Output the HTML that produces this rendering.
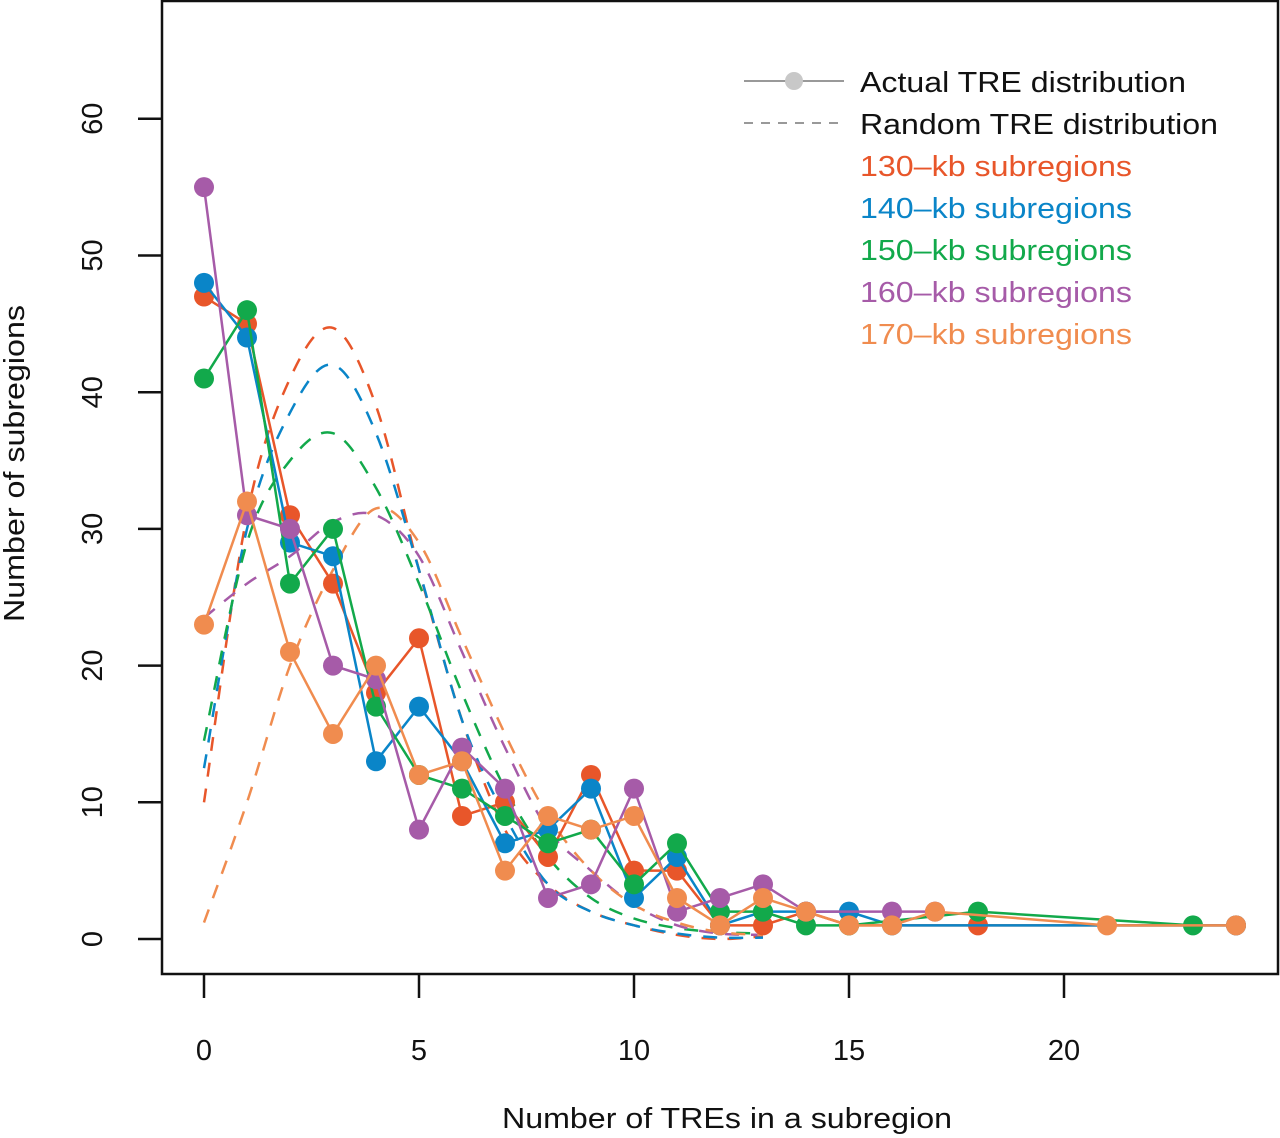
<!DOCTYPE html>
<html><head><meta charset="utf-8"><style>
body{margin:0;background:#fff}
svg{display:block;font-family:"Liberation Sans",sans-serif}
</style></head><body>
<svg id="chart" width="1280" height="1138" viewBox="0 0 1280 1138">
<rect x="162" y="1" width="1116" height="973" fill="none" stroke="#111" stroke-width="2.5"/>
<g id="axes"></g>
<g id="dashes"></g>
<g id="series"></g>
<text x="502" y="1128" font-size="29" textLength="450" lengthAdjust="spacingAndGlyphs" fill="#111">Number of TREs in a subregion</text>
<text transform="translate(24,622) rotate(-90)" font-size="29" textLength="317" lengthAdjust="spacingAndGlyphs" fill="#111">Number of subregions</text>
<g>
<line x1="744" y1="81" x2="844" y2="81" stroke="#999" stroke-width="2"/>
<circle cx="794" cy="81" r="9" fill="#c8c8c8"/>
<text x="860" y="92" font-size="29" textLength="326" lengthAdjust="spacingAndGlyphs" fill="#111">Actual TRE distribution</text>
<line x1="744" y1="123" x2="844" y2="123" stroke="#999" stroke-width="2" stroke-dasharray="9,8"/>
<text x="860" y="134" font-size="29" textLength="358" lengthAdjust="spacingAndGlyphs" fill="#111">Random TRE distribution</text>
<text x="860" y="176" font-size="29" textLength="272" lengthAdjust="spacingAndGlyphs" fill="#e8562a">130–kb subregions</text>
<text x="860" y="218" font-size="29" textLength="272" lengthAdjust="spacingAndGlyphs" fill="#0a85c8">140–kb subregions</text>
<text x="860" y="260" font-size="29" textLength="272" lengthAdjust="spacingAndGlyphs" fill="#12a94b">150–kb subregions</text>
<text x="860" y="302" font-size="29" textLength="272" lengthAdjust="spacingAndGlyphs" fill="#a65ba8">160–kb subregions</text>
<text x="860" y="344" font-size="29" textLength="272" lengthAdjust="spacingAndGlyphs" fill="#f08c4f">170–kb subregions</text>
</g>
</svg>
<script>
const xTicks=[0,5,10,15,20];
const yTicks=[0,10,20,30,40,50,60];
const seriesNames=['130kb','140kb','150kb','160kb','170kb'];
const seriesColors=['#e8562a','#0a85c8','#12a94b','#a65ba8','#f08c4f'];
const x130=[0,1,2,3,4,5,6,7,8,9,10,11,12,13,14,15,18,24];
const y130=[47,45,31,26,18,22,9,10,6,12,5,5,1,1,2,1,1,1];
const x140=[0,1,2,3,4,5,6,7,8,9,10,11,12,13,14,15,16,24];
const y140=[48,44,29,28,13,17,13,7,8,11,3,6,1,2,2,2,1,1];
const x150=[0,1,2,3,4,5,6,7,8,9,10,11,12,13,14,15,18,23];
const y150=[41,46,26,30,17,12,11,9,7,8,4,7,2,2,1,1,2,1];
const x160=[0,1,2,3,4,5,6,7,8,9,10,11,12,13,14,16,17];
const y160=[55,31,30,20,19,8,14,11,3,4,11,2,3,4,2,2,2];
const x170=[0,1,2,3,4,5,6,7,8,9,10,11,12,13,14,15,16,17,21,24];
const y170=[23,32,21,15,20,12,13,5,9,8,9,3,1,3,2,1,1,2,1,1];
const randX=[0,1,2,3,4,5,6,7,8,9,10,11,12,13];
const rand130=[10,31,41,44.7,39,27,16,8,4,2,1,0.3,0,0.2];
const rand140=[12.5,30,38.5,42,37,27,16,9,4,2,1,0.4,0.1,0.1];
const rand150=[14.5,29,35,37,33,26,18,11,6,3,1.5,0.8,0.5,0.4];
const rand160=[23.5,26,28,30.5,31,28,21,14,8,5,2.5,1,0.4,0.3];
const rand170=[1.2,10,20,27,31.5,29,22,15,9,5,2.5,1.2,0.5,0.3];

const NS='http://www.w3.org/2000/svg';
const sx=v=>204+v*43;
const sy=v=>939-v*13.67;
function mk(tag,attrs,parent){const e=document.createElementNS(NS,tag);for(const k in attrs)e.setAttribute(k,attrs[k]);parent.appendChild(e);return e;}
const axes=document.getElementById('axes');
xTicks.forEach(t=>{
  const l=mk('line',{x1:sx(t),x2:sx(t),y1:974,y2:998,stroke:'#111','stroke-width':2.5},axes);
  
  
  const tx=mk('text',{x:sx(t),y:1060,'font-size':29,'text-anchor':'middle',fill:'#111'},axes);
  tx.textContent=t;
  
  
});
yTicks.forEach(t=>{
  const l=mk('line',{x1:138,x2:162,y1:sy(t),y2:sy(t),stroke:'#111','stroke-width':2.5},axes);
  
  
  const tx=mk('text',{transform:`translate(102,${sy(t)}) rotate(-90)`,'font-size':29,'text-anchor':'middle',fill:'#111'},axes);
  tx.textContent=t;
  
  
});
function smooth(xs,ys){
  const p=xs.map((x,i)=>[sx(x),sy(ys[i])]);
  let d=`M${p[0][0]},${p[0][1]}`;
  for(let i=0;i<p.length-1;i++){
    const p0=p[i-1]||p[i],p1=p[i],p2=p[i+1],p3=p[i+2]||p2;
    const c1=[p1[0]+(p2[0]-p0[0])/6,p1[1]+(p2[1]-p0[1])/6];
    const c2=[p2[0]-(p3[0]-p1[0])/6,p2[1]-(p3[1]-p1[1])/6];
    d+=` C${c1[0]},${c1[1]} ${c2[0]},${c2[1]} ${p2[0]},${p2[1]}`;
  }
  return d;
}
const dashG=document.getElementById('dashes');
[rand130,rand140,rand150,rand160,rand170].forEach((ys,i)=>{
  const p=mk('path',{d:smooth(randX,ys),fill:'none',stroke:seriesColors[i],'stroke-width':2.5,'stroke-dasharray':'14,12'},dashG);
  
  
});
const serG=document.getElementById('series');
const XS=[x130,x140,x150,x160,x170],YS=[y130,y140,y150,y160,y170];
XS.forEach((xs,i)=>{
  const g=mk('g',{},serG);
  
  
  const pl=mk('polyline',{points:xs.map((x,j)=>sx(x)+','+sy(YS[i][j])).join(' '),fill:'none',stroke:seriesColors[i],'stroke-width':2.5},g);
  
  
  xs.forEach((x,j)=>{
    const c=mk('circle',{cx:sx(x),cy:sy(YS[i][j]),r:10,fill:seriesColors[i]},g);
    
    
  });
});
</script>
</body></html>
